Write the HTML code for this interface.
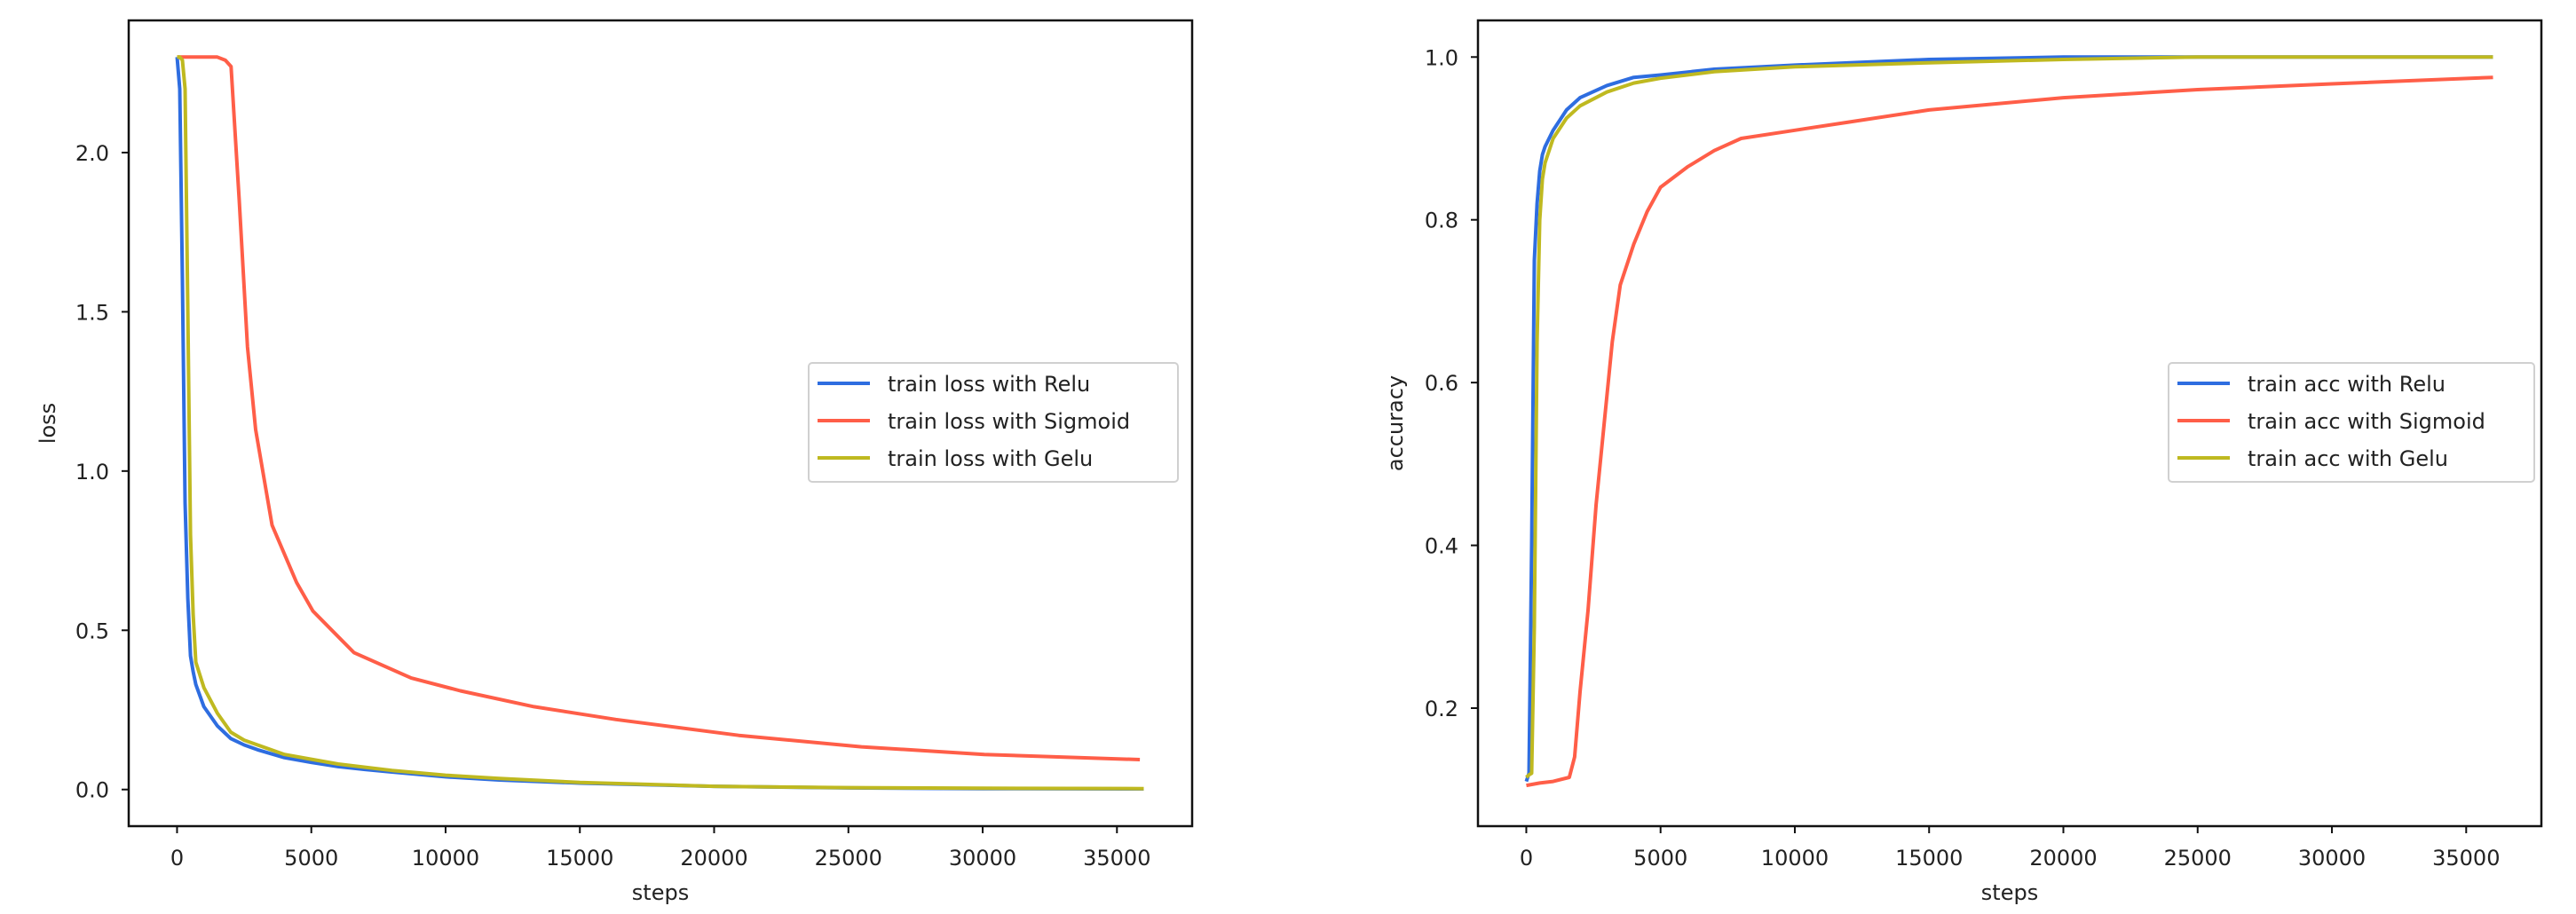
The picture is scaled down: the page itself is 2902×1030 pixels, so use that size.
<!DOCTYPE html>
<html><head><meta charset="utf-8"><style>
html,body{margin:0;padding:0;background:#fff;}
svg{display:block;font-family:"DejaVu Sans","Liberation Sans",sans-serif;}
</style></head><body>
<svg id="chart" width="2902" height="1030" viewBox="0 0 2902 1030" xmlns="http://www.w3.org/2000/svg">
<rect width="2902" height="1030" fill="#fff"/>
</svg>
<script>
// ---- data ----
const lossSteps = [0,100,200,300,400,500,600,700,1000,1500,2000,2500,3000,4000,5000,6000,7000,8000,10000,12000,15000,20000,25000,30000,36000];
const lossRelu  = [2.30,2.2,1.6,0.9,0.6,0.42,0.37,0.33,0.26,0.2,0.16,0.14,0.125,0.1,0.085,0.072,0.063,0.055,0.04,0.03,0.02,0.01,0.005,0.003,0.002];
const lossGelu  = [2.30,2.30,2.29,2.2,1.5,0.8,0.55,0.4,0.32,0.24,0.18,0.155,0.14,0.11,0.095,0.08,0.07,0.06,0.045,0.035,0.022,0.01,0.006,0.004,0.003];
const sigLossSteps = [0,500,1000,1500,1800,2012,2317,2622,2927,3537,4451,5061,6585,8720,10550,13293,16341,20915,25488,30061,35854];
const lossSigmoid  = [2.30,2.30,2.30,2.30,2.29,2.27,1.85,1.39,1.13,0.83,0.65,0.56,0.43,0.35,0.31,0.26,0.22,0.17,0.134,0.11,0.094];
const accSteps = [0,100,200,300,400,500,600,700,1000,1500,2000,3000,4000,5000,7000,10000,15000,20000,25000,36000];
const accRelu  = [0.11,0.12,0.4,0.75,0.82,0.86,0.88,0.89,0.91,0.935,0.95,0.965,0.975,0.978,0.985,0.99,0.997,1.0,1.0,1.0];
const accGelu  = [0.115,0.118,0.12,0.3,0.65,0.8,0.85,0.87,0.9,0.925,0.94,0.957,0.968,0.974,0.982,0.988,0.993,0.997,1.0,1.0];
const sigAccSteps = [0,500,1000,1600,1800,2000,2300,2600,2900,3200,3500,4000,4500,5000,6000,7000,8000,10000,12000,15000,20000,25000,30000,36000];
const accSigmoid  = [0.105,0.108,0.11,0.115,0.14,0.22,0.32,0.45,0.55,0.65,0.72,0.77,0.81,0.84,0.865,0.885,0.9,0.91,0.92,0.935,0.95,0.96,0.967,0.975];
const xTicks = [0,5000,10000,15000,20000,25000,30000,35000];
const lossTicks = [0.0,0.5,1.0,1.5,2.0];
const accTicks = [0.2,0.4,0.6,0.8,1.0];
const seriesNames = ['Relu','Sigmoid','Gelu'];
const colors = {Relu:'#2e6de0',Sigmoid:'#ff5e48',Gelu:'#bfb920'};

const NS='http://www.w3.org/2000/svg';
const svg=document.getElementById('chart');
function el(tag,attrs,parent){const e=document.createElementNS(NS,tag);for(const k in attrs)e.setAttribute(k,attrs[k]);(parent||svg).appendChild(e);return e;}

function panel(cfg){
  const g=el('g',{});
  
  
  const X=v=>cfg.x0+(v-cfg.xmin)/(cfg.xmax-cfg.xmin)*(cfg.x1-cfg.x0);
  const Y=v=>cfg.y1-(v-cfg.ymin)/(cfg.ymax-cfg.ymin)*(cfg.y1-cfg.y0);
  // series
  cfg.series.forEach(s=>{
    const d=s.xs.map((x,i)=>(i?'L':'M')+X(x).toFixed(1)+','+Y(s.ys[i]).toFixed(1)).join('');
    const p=el('path',{d:d,fill:'none',stroke:colors[s.key],'stroke-width':4,'stroke-linejoin':'round'},g);
    
    
  });
  // frame
  const fr=el('rect',{x:cfg.x0,y:cfg.y0,width:cfg.x1-cfg.x0,height:cfg.y1-cfg.y0,fill:'none',stroke:'#111','stroke-width':2.5},g);
  
  
  // x ticks
  xTicks.forEach(t=>{
    const x=X(t);
    el('line',{x1:x,x2:x,y1:cfg.y1,y2:cfg.y1+8,stroke:'#111','stroke-width':2},g);
    const tx=el('text',{x:x,y:cfg.y1+44,'font-size':24,'text-anchor':'middle',fill:'#222'},g);
    tx.textContent=String(t);
    
    
  });
  cfg.yTicks.forEach(t=>{
    const y=Y(t);
    el('line',{x1:cfg.x0-8,x2:cfg.x0,y1:y,y2:y,stroke:'#111','stroke-width':2},g);
    const tx=el('text',{x:cfg.x0-22,y:y+9,'font-size':24,'text-anchor':'end',fill:'#222'},g);
    tx.textContent=t.toFixed(1);
    
    
  });
  const xl=el('text',{x:(cfg.x0+cfg.x1)/2,y:1014,'font-size':24,'text-anchor':'middle',fill:'#222'},g);
  xl.textContent='steps';
  
  
  const yl=el('text',{x:0,y:0,'font-size':24,'text-anchor':'middle',fill:'#222',transform:'translate('+cfg.ylx+','+((cfg.y0+cfg.y1)/2)+') rotate(-90)'},g);
  yl.textContent=cfg.ylabel;
  
  
  // legend
  const lg=el('g',{},g);
  
  
  el('rect',{x:cfg.lx,y:409,width:cfg.lw,height:134,rx:4,fill:'#fff','fill-opacity':0.85,stroke:'#d0d0d0','stroke-width':2},lg);
  seriesNames.forEach((n,i)=>{
    const y=432+i*42;
    el('line',{x1:cfg.lx+10,x2:cfg.lx+69,y1:y,y2:y,stroke:colors[n],'stroke-width':4},lg);
    const t=el('text',{x:cfg.lx+89,y:y+9,'font-size':24,fill:'#222'},lg);
    t.textContent=cfg.legendPrefix+n;
    
    
  });
}

panel({name:'loss-chart',x0:145,x1:1343,y0:23,y1:931,xmin:-1800,xmax:37800,ymin:-0.115,ymax:2.415,
  yTicks:lossTicks,ylabel:'loss',ylx:62,lx:911,lw:416,legendPrefix:'train loss with ',
  series:[{key:'Relu',xs:lossSteps,ys:lossRelu},{key:'Sigmoid',xs:sigLossSteps,ys:lossSigmoid},{key:'Gelu',xs:lossSteps,ys:lossGelu}]});
panel({name:'accuracy-chart',x0:1665,x1:2863,y0:23,y1:931,xmin:-1800,xmax:37800,ymin:0.055,ymax:1.045,
  yTicks:accTicks,ylabel:'accuracy',ylx:1580,lx:2443,lw:412,legendPrefix:'train acc with ',
  series:[{key:'Relu',xs:accSteps,ys:accRelu},{key:'Sigmoid',xs:sigAccSteps,ys:accSigmoid},{key:'Gelu',xs:accSteps,ys:accGelu}]});
</script>
</body></html>
